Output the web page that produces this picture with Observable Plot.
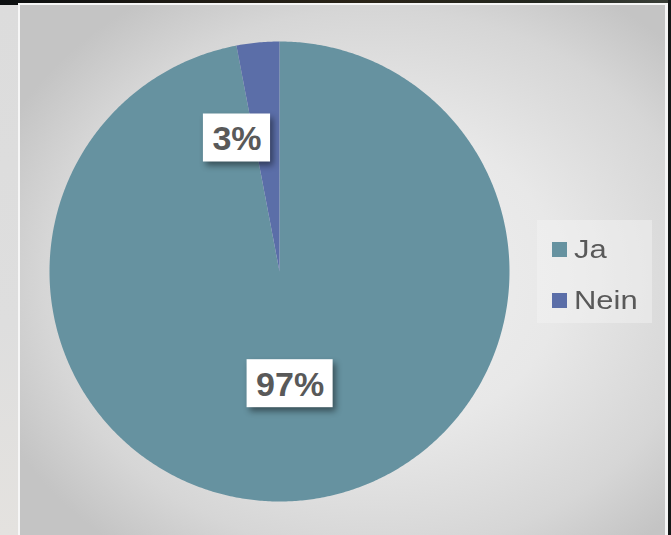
<!DOCTYPE html>
<html>
<head>
<meta charset="utf-8">
<script src="https://cdn.jsdelivr.net/npm/d3@7"></script>
<script src="https://cdn.jsdelivr.net/npm/@observablehq/plot@0.6"></script>
<style>
  html, body { margin: 0; padding: 0; width: 671px; height: 535px; overflow: hidden; background: #1b1d1c; }
  #page { position: absolute; left: 0; top: 0; width: 671px; height: 535px; }
  #topstrip { position: absolute; left: 0; top: 0; width: 671px; height: 5px;
    background: linear-gradient(90deg, #0c0f10 0%, #1d1a14 25%, #2a2418 55%, #23271f 80%, #3a3f38 100%); }
  #leftstrip { position: absolute; left: 0; top: 5px; width: 18px; height: 530px;
    background: linear-gradient(180deg, #dcdcdc 0%, #dedede 60%, #e4e2df 100%); }
  #rightstrip { position: absolute; left: 668px; top: 0; width: 3px; height: 535px; background: #151818; }
  #frame { position: absolute; left: 18px; top: 3px; width: 650px; height: 532px; background: #f6f6f6; }
  #area { position: absolute; left: 20px; top: 5px; width: 645px; height: 530px;
    background: radial-gradient(ellipse 64% 64% at 55% 52%, #f0f0f0 0%, #e8e8e8 45%, #d6d6d6 80%, #c4c4c4 100%); }
  #chart { position: absolute; left: 0; top: 0; }
  #legend { position: absolute; left: 537px; top: 220px; width: 115px; height: 103px;
    background: rgba(245,245,245,0.45); font-family: "Liberation Sans", Arial, sans-serif; color: #595959; font-size: 26px; }
  .item { position: absolute; left: 15px; height: 30px; line-height: 30px; }
  .sw { position: absolute; left: 0; top: 8px; width: 15px; height: 15px; }
  .lab { position: absolute; left: 22px; top: 0; white-space: nowrap; transform: scaleX(1.19); transform-origin: 0 50%; }
  g[aria-label="rect"] { filter: drop-shadow(3px 4px 3px rgba(0,0,0,0.45)); }
</style>
</head>
<body>
<div id="page">
  <div id="topstrip"></div>
  <div id="leftstrip"></div>
  <div id="rightstrip"></div>
  <div id="frame"></div>
  <div id="area"></div>
  <div id="chart"></div>
  <div id="legend"></div>
</div>
<script>
// ---- data ----
const categories = ["Ja", "Nein"];
const values = [97, 3];
const colors = ["#6692a0", "#5b6ea8"];
const labels = ["97%", "3%"];

const rows = categories.map((c, i) => ({key: c, value: values[i], label: labels[i]}));
const total = d3.sum(values);
const arcs = d3.pie().sort(null).value(d => d.value)(rows);

// slice outlines computed from the pie angles
const pts = [];
for (const a of arcs) {
  pts.push({key: a.data.key, x: 0, y: 0});
  const n = Math.max(2, Math.ceil((a.endAngle - a.startAngle) / (Math.PI / 360)));
  for (let k = 0; k <= n; k++) {
    const t = a.startAngle + (a.endAngle - a.startAngle) * k / n;
    pts.push({key: a.data.key, x: Math.sin(t), y: Math.cos(t)});
  }
}

// label placement
const R = 230; // pixel radius
const ctx = document.createElement("canvas").getContext("2d");
const labelFont = 'bold 34px "Liberation Sans", Arial, sans-serif';
ctx.font = labelFont;
const lab = arcs.map(a => {
  const mid = (a.startAngle + a.endAngle) / 2;
  const small = a.data.value / total < 0.1;
  const r = small ? 0.583 : 0.49;
  const x = Math.sin(mid) * r - (small ? 0.13 : 0);
  const y = Math.cos(mid) * r;
  const w = ctx.measureText(a.data.label).width;
  const hw = (w / 2 + 9) / R, hh = 24 / R;
  return {key: a.data.key, label: a.data.label, x, y, x1: x - hw, x2: x + hw, y1: y - hh, y2: y + hh};
});

const svg = Plot.plot({
  width: 671,
  height: 535,
  marginLeft: 49,
  marginRight: 671 - 279 - R,
  marginTop: 271 - R,
  marginBottom: 535 - 271 - R,
  x: {domain: [-1, 1], axis: null},
  y: {domain: [-1, 1], axis: null},
  color: {domain: categories, range: colors},
  style: {background: "transparent", overflow: "visible"},
  marks: [
    Plot.line(pts, {x: "x", y: "y", z: "key", fill: "key", stroke: "none", curve: "linear-closed"}),
    Plot.rect(lab, {x1: "x1", x2: "x2", y1: "y1", y2: "y2", fill: "white"}),
    Plot.text(lab, {x: "x", y: "y", text: "label", fill: "#595959", fontSize: 34, fontWeight: "bold",
      fontFamily: '"Liberation Sans", Arial, sans-serif', dy: 1})
  ]
});
document.getElementById("chart").appendChild(svg);

// legend
const legend = d3.select("#legend");
categories.forEach((c, i) => {
  const it = legend.append("div").attr("class", "item").style("top", (14 + i * 51) + "px");
  it.append("div").attr("class", "sw").style("background", colors[i]);
  it.append("div").attr("class", "lab").text(c);
});
</script>
</body>
</html>
